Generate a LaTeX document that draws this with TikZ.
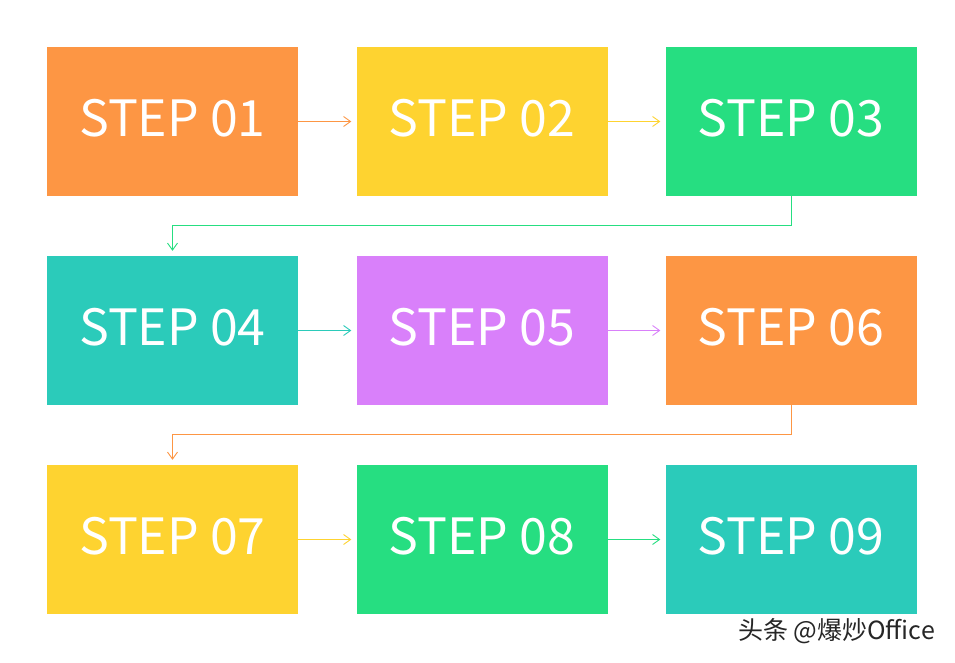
\documentclass[tikz,border=0pt]{standalone}
\usepackage{fontspec}
\newfontfamily\cjk{Noto Sans CJK SC}
\usetikzlibrary{arrows.meta}
\definecolor{stepOrange}{HTML}{FD9644}
\definecolor{stepYellow}{HTML}{FED330}
\definecolor{stepGreen}{HTML}{26DE81}
\definecolor{stepTeal}{HTML}{2BCBBA}
\definecolor{stepPurple}{HTML}{D980FA}
\tikzset{
  stepbox/.style={draw=none, minimum width=251pt, minimum height=149pt, inner sep=0pt,
    text=white, font=\cjk\fontsize{50}{52}\selectfont},
  steplabel/.style={text=white, font=\cjk\fontsize{50}{52}\selectfont, inner sep=0pt},
  link/.style={line width=0.9pt, -{Straight Barb[length=7pt,width=10pt,line width=0.9pt]}}
}
\begin{document}
\begin{tikzpicture}[x=1pt,y=-1pt]
    \useasboundingbox (0,0) rectangle (955,662);
    \fill[white] (0,0) rectangle (955,662);
    % first row
    \node[stepbox, fill=stepOrange] (s1) at (172.5,121.5) {};
    \node[stepbox, fill=stepYellow] (s2) at (482,121.5) {};
    \node[stepbox, fill=stepGreen] (s3) at (791,121.5) {};
    % second row
    \node[stepbox, fill=stepTeal] (s4) at (172.5,330.5) {};
    \node[stepbox, fill=stepPurple] (s5) at (482,330.5) {};
    \node[stepbox, fill=stepOrange] (s6) at (791,330.5) {};
    % third row
    \node[stepbox, fill=stepYellow] (s7) at (172.5,539.5) {};
    \node[stepbox, fill=stepGreen] (s8) at (482,539.5) {};
    \node[stepbox, fill=stepTeal] (s9) at (791,539.5) {};
    % labels, set a little above the box centres
    \node[steplabel] (t1) at ([yshift=3pt]s1.center) {STEP 01};
    \node[steplabel] (t2) at ([yshift=3pt]s2.center) {STEP 02};
    \node[steplabel] (t3) at ([yshift=3pt]s3.center) {STEP 03};
    \node[steplabel] (t4) at ([yshift=3pt]s4.center) {STEP 04};
    \node[steplabel] (t5) at ([yshift=3pt]s5.center) {STEP 05};
    \node[steplabel] (t6) at ([yshift=3pt]s6.center) {STEP 06};
    \node[steplabel] (t7) at ([yshift=3pt]s7.center) {STEP 07};
    \node[steplabel] (t8) at ([yshift=3pt]s8.center) {STEP 08};
    \node[steplabel] (t9) at ([yshift=3pt]s9.center) {STEP 09};
    % connectors
    \draw[link, stepOrange] (s1.east) -- ([xshift=-5pt]s2.west);
    \draw[link, stepYellow] (s2.east) -- ([xshift=-5pt]s3.west);
    \draw[link, stepGreen] (s3.south) -- ++(0,29) -| ([yshift=5pt]s4.north);
    \draw[link, stepTeal] (s4.east) -- ([xshift=-5pt]s5.west);
    \draw[link, stepPurple] (s5.east) -- ([xshift=-5pt]s6.west);
    \draw[link, stepOrange] (s6.south) -- ++(0,29) -| ([yshift=5pt]s7.north);
    \draw[link, stepYellow] (s7.east) -- ([xshift=-5pt]s8.west);
    \draw[link, stepGreen] (s8.east) -- ([xshift=-5pt]s9.west);
    % watermark
    \node[font=\cjk\fontsize{25}{27}\selectfont, text=white] (markshadow) at (837.5,632) {头条 @爆炒Office};
    \node[font=\cjk\fontsize{25}{27}\selectfont, text=black!85] (mark) at (836.5,631) {头条 @爆炒Office};
\end{tikzpicture}
\end{document}
